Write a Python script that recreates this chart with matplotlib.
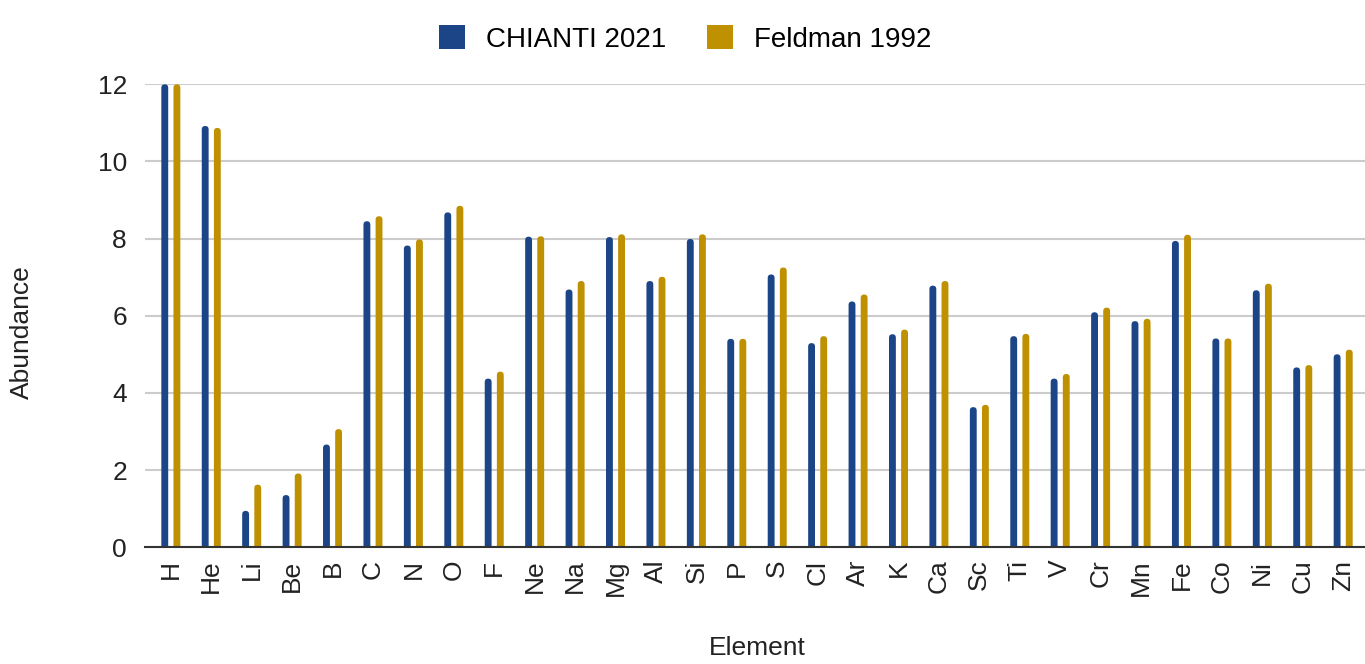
import numpy as np
import matplotlib.pyplot as plt
from matplotlib.patches import Patch, FancyBboxPatch

plt.rcParams['font.family'] = ['Liberation Sans', 'DejaVu Sans']

# data -------------------------------------------------------------------------------------------------- data

elements = ['H', 'He', 'Li', 'Be', 'B', 'C', 'N', 'O', 'F', 'Ne',
            'Na', 'Mg', 'Al', 'Si', 'P', 'S', 'Cl', 'Ar', 'K', 'Ca',
            'Sc', 'Ti', 'V', 'Cr', 'Mn', 'Fe', 'Co', 'Ni', 'Cu', 'Zn']

chianti_2021 = [12.00, 10.92, 0.94, 1.35, 2.66, 8.45, 7.82, 8.68, 4.37, 8.05,
                6.68, 8.04, 6.90, 7.99, 5.40, 7.07, 5.29, 6.37, 5.52, 6.78,
                3.63, 5.47, 4.37, 6.09, 5.86, 7.94, 5.41, 6.66, 4.66, 5.00]

feldman_1992 = [12.00, 10.87, 1.62, 1.91, 3.06, 8.58, 7.98, 8.85, 4.55, 8.06,
                6.90, 8.11, 7.01, 8.11, 5.40, 7.25, 5.47, 6.55, 5.64, 6.90,
                3.69, 5.53, 4.49, 6.21, 5.92, 8.10, 5.41, 6.83, 4.72, 5.12]

blue = '#1c4587'
gold = '#bf9000'

# rounded bars ------------------------------------------------------------------------------------ rounded bars

def rounded_bars(ax, xs, values, width, color):
    """ bars with rounded tops, bottom hidden under the axis """
    for xi, v in zip(xs, values):
        p = FancyBboxPatch((xi - width / 2, -0.3), width, v + 0.3,
                           boxstyle='round,pad=0,rounding_size=%f' % (width / 2),
                           mutation_aspect=1.06, facecolor=color, edgecolor='none',
                           zorder=3)
        ax.add_patch(p)

# plot -------------------------------------------------------------------------------------------------- plot

fig = plt.figure(figsize=(13.65, 6.64), dpi=100)
ax = fig.add_axes([0.1062, 0.176, 0.8938, 0.697])

x = np.arange(len(elements))
w = 0.17
off = 0.15
rounded_bars(ax, x - off, chianti_2021, w, blue)
rounded_bars(ax, x + off, feldman_1992, w, gold)

ax.set_xlim(-0.64, len(elements) - 0.46)
ax.set_ylim(0, 12)
ax.set_yticks(np.arange(0, 13, 2))
ax.set_xticks(x)
ax.set_xticklabels(elements, rotation=90, fontsize=19, color='#222222')
ax.tick_params(axis='y', labelsize=19, colors='#222222', length=0, pad=13)
ax.tick_params(axis='x', length=0, pad=9)

ax.grid(axis='y', color='#cccccc', lw=1.5, zorder=0)
for s in ['top', 'right', 'left']:
    ax.spines[s].set_visible(False)
ax.spines['bottom'].set_color('#333333')
ax.spines['bottom'].set_linewidth(1.5)
ax.spines['bottom'].set_zorder(4)

fig.text(0.555, 0.006, 'Element', ha='center', va='bottom', fontsize=19, color='#222222')
fig.text(0.016, 0.5, 'Abundance', ha='center', va='center', rotation=90, fontsize=19, color='#222222')

handles = [Patch(facecolor=blue, label='CHIANTI 2021'),
           Patch(facecolor=gold, label='Feldman 1992')]
fig.legend(handles=handles, loc='upper center', bbox_to_anchor=(0.502, 1.0), ncol=2,
           frameon=False, fontsize=20, handlelength=0.95, handleheight=0.95,
           columnspacing=1.45, handletextpad=0.75)

fig.savefig('out.png', dpi=100)
